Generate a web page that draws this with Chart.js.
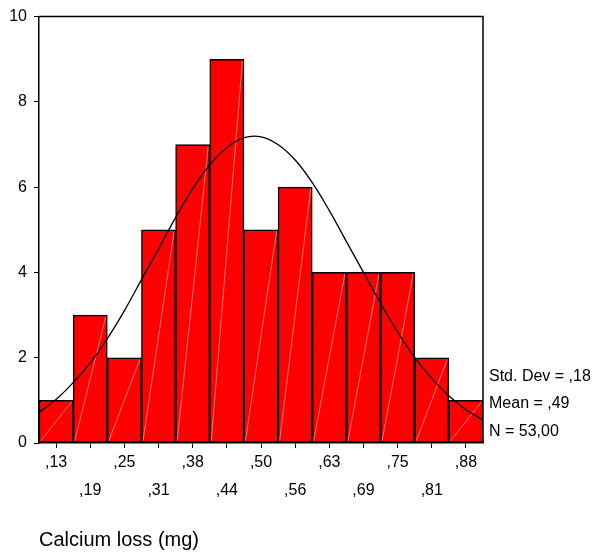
<!DOCTYPE html>
<html><head><meta charset="utf-8">
<script src="https://cdn.jsdelivr.net/npm/chart.js@4"></script>
<style>html,body{margin:0;padding:0;background:#fff}#wrap{width:595px;height:553px}</style>
</head><body><div id="wrap"><canvas id="c" width="595" height="553"></canvas></div>
<script>
const binLabels = [',13', ',19', ',25', ',31', ',38', ',44', ',50', ',56', ',63', ',69', ',75', ',81', ',88'];
const counts = [1, 3, 2, 5, 7, 9, 5, 6, 4, 4, 4, 2, 1];
const curveX = [0.094, 0.125, 0.156, 0.188, 0.219, 0.25, 0.281, 0.313, 0.344, 0.375, 0.406, 0.438, 0.469, 0.5, 0.531, 0.563, 0.594, 0.625, 0.656, 0.688, 0.719, 0.75, 0.781, 0.813, 0.844, 0.875, 0.906];
const curveY = [0.72, 1.02, 1.41, 1.88, 2.45, 3.1, 3.82, 4.56, 5.29, 5.96, 6.52, 6.93, 7.16, 7.18, 7.0, 6.63, 6.1, 5.45, 4.73, 3.99, 3.27, 2.6, 2.01, 1.51, 1.1, 0.78, 0.54];
const xRange = [0.094, 0.906];
const yRange = [0, 10];
const yStep = 2;
const statLines = ['Std. Dev = ,18', 'Mean = ,49', 'N = 53,00'];
const xTitle = 'Calcium loss (mg)';

const FONT = '"Liberation Sans", Arial, sans-serif';

const decor = {
  id: 'decor',
  afterDatasetDraw(chart, args) {
    if (args.index !== 0) return;
    const ctx = chart.ctx;
    ctx.save();
    ctx.strokeStyle = 'rgba(255,255,255,0.45)';
    ctx.lineWidth = 1;
    args.meta.data.forEach(b => {
      const l = b.x - b.width / 2, r = b.x + b.width / 2;
      ctx.beginPath();
      ctx.moveTo(l + 1.5, b.base - 1.5);
      ctx.lineTo(r - 1.5, b.y + 1.5);
      ctx.stroke();
    });
    ctx.restore();
  },
  afterDraw(chart) {
    const ctx = chart.ctx, a = chart.chartArea;
    ctx.save();
    ctx.strokeStyle = '#000';
    ctx.lineWidth = 1.5;
    ctx.beginPath();
    ctx.moveTo(a.left, a.top);
    ctx.lineTo(a.right, a.top);
    ctx.lineTo(a.right, a.bottom);
    ctx.stroke();
    ctx.fillStyle = '#000';
    ctx.font = '16px ' + FONT;
    ctx.textBaseline = 'middle';
    ctx.textAlign = 'left';
    const ys = [377, 404, 432];
    statLines.forEach((t, i) => ctx.fillText(t, a.right + 6, ys[i]));
    ctx.restore();
  }
};

new Chart(document.getElementById('c'), {
  type: 'bar',
  data: {
    labels: binLabels,
    datasets: [{
      data: counts,
      backgroundColor: '#FF0000',
      borderColor: '#000',
      borderWidth: 1.5,
      borderSkipped: false,
      categoryPercentage: 1,
      barPercentage: 1,
      grouped: false,
      order: 2
    }, {
      type: 'line',
      xAxisID: 'x2',
      data: curveX.map((x, i) => ({x: x, y: curveY[i]})),
      borderColor: '#000',
      borderWidth: 1.3,
      pointRadius: 0,
      tension: 0.4,
      fill: false,
      order: 1
    }]
  },
  options: {
    responsive: false,
    devicePixelRatio: 1,
    animation: false,
    layout: {padding: {left: 0, right: 112, top: 15, bottom: 0}},
    plugins: {legend: {display: false}, tooltip: {enabled: false}},
    scales: {
      x: {
        offset: true,
        grid: {offset: false, drawOnChartArea: false, drawTicks: true, tickLength: 5, color: '#000', lineWidth: 1},
        border: {display: true, color: '#000', width: 1.5},
        ticks: {
          autoSkip: false, maxRotation: 0, padding: 1, color: '#000',
          font: {family: FONT, size: 16, lineHeight: 1.75},
          callback: (v, i) => i % 2 === 0 ? binLabels[i] : ['', binLabels[i]]
        },
        title: {display: true, text: xTitle, align: 'start', color: '#000', font: {family: FONT, size: 20, lineHeight: 1.2}, padding: {top: 0, bottom: 1}},
        afterFit: s => { s.height = 110; }
      },
      x2: {type: 'linear', display: false, offset: false, min: xRange[0], max: xRange[1]},
      y: {
        min: yRange[0], max: yRange[1],
        grid: {drawOnChartArea: false, drawTicks: true, tickLength: 5, color: '#000'},
        border: {display: true, color: '#000', width: 1.5},
        ticks: {stepSize: yStep, padding: 7, color: '#000', font: {family: FONT, size: 16}},
        afterFit: s => { s.width = 39; }
      }
    }
  },
  plugins: [decor]
});
</script></body></html>
